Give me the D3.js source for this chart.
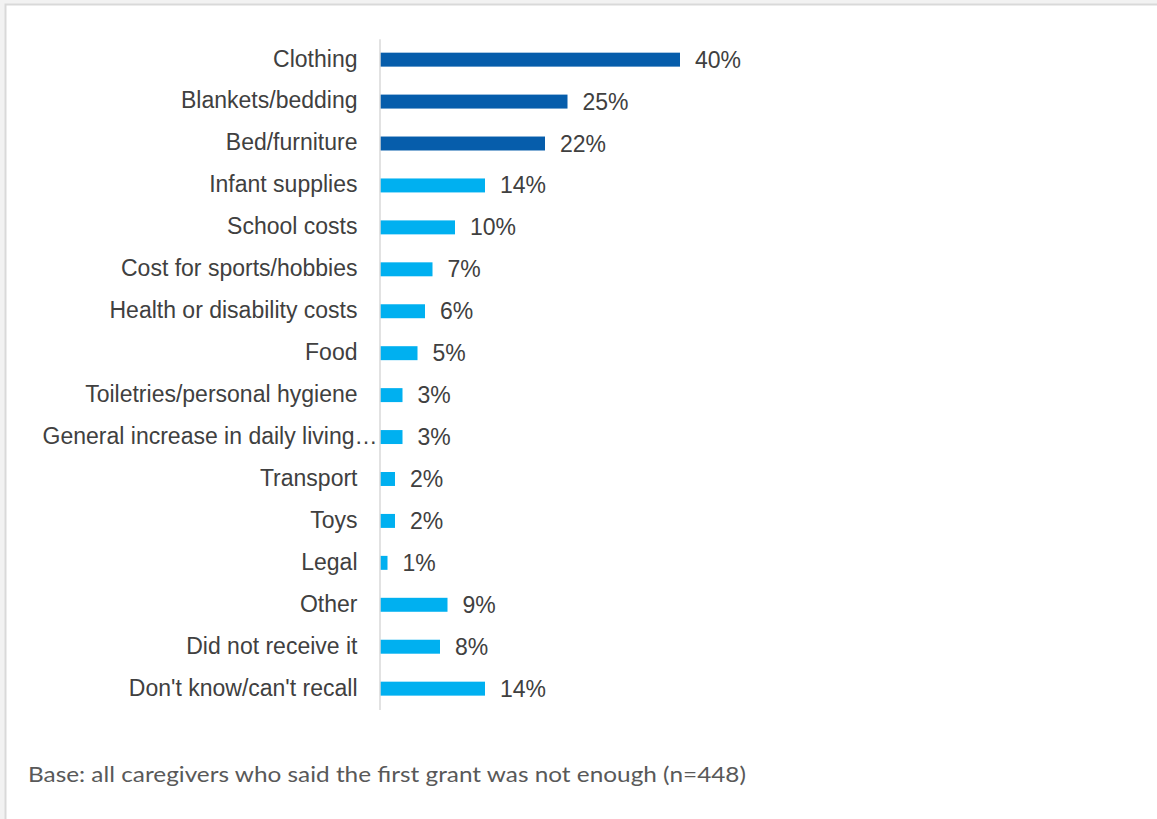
<!DOCTYPE html>
<html>
<head>
<meta charset="utf-8">
<script src="https://cdn.jsdelivr.net/npm/d3@7"></script>
<style>
  html, body { margin: 0; padding: 0; background: #f2f2f2; }
  svg { display: block; }
</style>
</head>
<body>
<svg id="chart" width="1157" height="819"></svg>
<script>
// Reasons the first grant was not enough (% of caregivers)
const categories = [
  "Clothing",
  "Blankets/bedding",
  "Bed/furniture",
  "Infant supplies",
  "School costs",
  "Cost for sports/hobbies",
  "Health or disability costs",
  "Food",
  "Toiletries/personal hygiene",
  "General increase in daily living…",
  "Transport",
  "Toys",
  "Legal",
  "Other",
  "Did not receive it",
  "Don't know/can't recall"
];
const values = [40, 25, 22, 14, 10, 7, 6, 5, 3, 3, 2, 2, 1, 9, 8, 14];
const highlighted = ["Clothing", "Blankets/bedding", "Bed/furniture"];
const footnote = "Base: all caregivers who said the first grant was not enough (n=448)";

const data = categories.map((c, i) => ({ category: c, value: values[i] }));

const svg = d3.select("#chart");

// Panel with a light frame
svg.append("rect")
  .attr("x", 5.5).attr("y", 4.5)
  .attr("width", 1200).attr("height", 900)
  .attr("fill", "#ffffff")
  .attr("stroke", "#d9d9d9")
  .attr("stroke-width", 2);

const x = d3.scaleLinear().domain([0, 40]).range([380, 680]);
const y = d3.scaleBand()
  .domain(categories)
  .range([38.7, 709.6])
  .paddingInner(0.667)
  .paddingOuter(0.333);

const font = "'Liberation Sans', Arial, sans-serif";

// Bars
svg.append("g")
  .selectAll("rect")
  .data(data)
  .join("rect")
  .attr("x", x(0))
  .attr("y", d => y(d.category))
  .attr("width", d => x(d.value) - x(0))
  .attr("height", y.bandwidth())
  .attr("fill", d => highlighted.includes(d.category) ? "#065dab" : "#00b0f0");

// Category axis
const axis = svg.append("g")
  .attr("transform", `translate(${x(0) - 0.5},0)`)
  .call(d3.axisLeft(y).tickSize(0).tickSizeOuter(0).tickPadding(22));

axis.select(".domain")
  .attr("stroke", "#d9d9d9")
  .attr("stroke-width", 1.5);

axis.selectAll(".tick text")
  .attr("font-family", font)
  .attr("font-size", 23)
  .attr("fill", "#404040")
  .attr("dy", "0.3em")
  .attr("dx", d => d.endsWith("…") ? 20 : 0);

// Value labels
svg.append("g")
  .selectAll("text")
  .data(data)
  .join("text")
  .attr("x", d => x(d.value) + 15)
  .attr("y", d => y(d.category) + y.bandwidth() / 2)
  .attr("dy", "0.35em")
  .attr("font-family", font)
  .attr("font-size", 23)
  .attr("fill", "#404040")
  .text(d => d3.format(".0f")(d.value) + "%");

// Footnote
svg.append("text")
  .attr("x", 28)
  .attr("y", 782)
  .attr("font-family", "Lato, 'Open Sans', sans-serif")
  .attr("font-size", 21)
  .attr("fill", "#595959")
  .attr("textLength", 718)
  .attr("lengthAdjust", "spacingAndGlyphs")
  .text(footnote);
</script>
</body>
</html>
